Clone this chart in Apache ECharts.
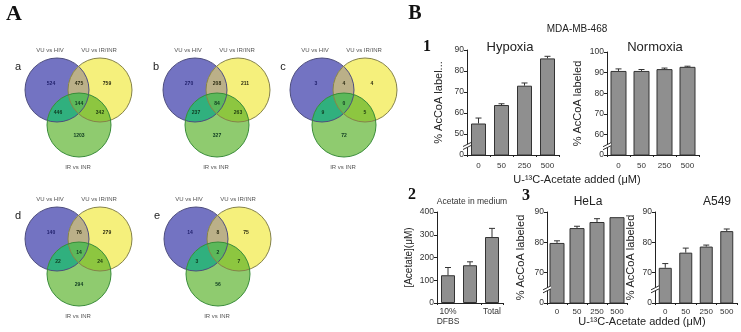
<!DOCTYPE html>
<html><head><meta charset="utf-8">
<script src="https://cdn.jsdelivr.net/npm/echarts@6/dist/echarts.min.js"></script>
<style>html,body{margin:0;padding:0;background:#fff}#c{width:741px;height:332px}</style>
</head><body><div id="c"></div>
<script>
// ---------- data ----------
const doseCats = ['0', '50', '250', '500'];
const hypoxiaVals = [55, 63.8, 73, 86];
const hypoxiaErr = [2.6, 0.6, 1.3, 1.0];
const normoxiaVals = [90.8, 90.8, 91.7, 92.8];
const normoxiaErr = [1.0, 0.7, 0.5, 0.3];
const mediumCats = ['10%\nDFBS', 'DMEM', 'Total'];
const mediumVals = [122, 166, 290];
const mediumErr = [34, 15, 38];
const helaVals = [79.8, 84.7, 86.7, 88.3];
const helaErr = [0.7, 0.6, 1.1, 0];
const a549Vals = [71.6, 76.6, 78.6, 83.7];
const a549Err = [1.4, 1.5, 0.5, 0.7];
const vennSetNames = ['VU vs HIV', 'VU vs IR/INR', 'IR vs INR'];
const vennPanels = ['a', 'b', 'c', 'd', 'e'];
// region order: HIV only, HIV&IR/INR, IR/INR only, HIV&IRvsINR, all three, IR/INR&IRvsINR, IRvsINR only
const vennA = [524, 475, 759, 446, 144, 342, 1203];
const vennB = [270, 208, 211, 237, 84, 263, 327];
const vennC = [3, 4, 4, 9, 0, 5, 72];
const vennD = [140, 76, 279, 22, 14, 24, 294];
const vennE = [14, 8, 75, 3, 2, 7, 56];
const vennData = [vennA, vennB, vennC, vennD, vennE];

// ---------- layout / style ----------
const FONT = '"Liberation Sans", Arial, sans-serif';
const SERIF = '"Liberation Serif", "Times New Roman", serif';
const vennOffsets = [[0, 0], [138, 0], [265, 0], [0, 149], [139, 149]];
const R = 32;
const centers = [[57, 90], [100, 90], [79, 125]];
const fills = { p: '#7373c2', y: '#f5f07c', g: '#8fcb6f', py: '#bbb088', pg: '#30b07e', yg: '#8dc640', pyg: '#5cb85a' };
const strokes = ['#4e4e7e', '#85824a', '#3a8c3a'];
const labelPos = [[51, 84], [79, 84], [107, 84], [58, 113], [79, 104], [100, 113], [79, 136]];
const numColor = ['#1e1e6a', '#2a2a10', '#2a2a10', '#0e3a20', '#0e3a20', '#1e3a10', '#0e3a20'];

function regionPoly(circles, n) {
  let cx = 0, cy = 0;
  circles.forEach(c => { cx += c[0]; cy += c[1]; });
  cx /= circles.length; cy /= circles.length;
  const pts = [];
  for (let k = 0; k < n; k++) {
    const a = 2 * Math.PI * k / n, ux = Math.cos(a), uy = Math.sin(a);
    let tmin = Infinity;
    circles.forEach(c => {
      const wx = cx - c[0], wy = cy - c[1];
      const b = wx * ux + wy * uy;
      const cc = wx * wx + wy * wy - c[2] * c[2];
      const t = -b + Math.sqrt(b * b - cc);
      if (t < tmin) tmin = t;
    });
    pts.push([cx + ux * tmin, cy + uy * tmin]);
  }
  return pts;
}

function vennRender(params, api) {
  const idx = api.value(0);
  const counts = vennData[idx];
  const ox = vennOffsets[idx][0], oy = vennOffsets[idx][1];
  const C = centers.map(c => [c[0] + ox, c[1] + oy, R]);
  const ch = [];
  ch.push({ type: 'circle', shape: { cx: C[0][0], cy: C[0][1], r: R }, style: { fill: fills.p } });
  ch.push({ type: 'circle', shape: { cx: C[1][0], cy: C[1][1], r: R }, style: { fill: fills.y } });
  ch.push({ type: 'circle', shape: { cx: C[2][0], cy: C[2][1], r: R }, style: { fill: fills.g } });
  ch.push({ type: 'polygon', shape: { points: regionPoly([C[0], C[1]], 160) }, style: { fill: fills.py } });
  ch.push({ type: 'polygon', shape: { points: regionPoly([C[0], C[2]], 160) }, style: { fill: fills.pg } });
  ch.push({ type: 'polygon', shape: { points: regionPoly([C[1], C[2]], 160) }, style: { fill: fills.yg } });
  ch.push({ type: 'polygon', shape: { points: regionPoly([C[0], C[1], C[2]], 160) }, style: { fill: fills.pyg } });
  C.forEach((c, i) => ch.push({ type: 'circle', shape: { cx: c[0], cy: c[1], r: R },
    style: { fill: 'none', stroke: strokes[i], lineWidth: 1 } }));
  counts.forEach((v, i) => ch.push({ type: 'text', x: labelPos[i][0] + ox, y: labelPos[i][1] + oy,
    style: { text: String(v), fill: numColor[i], font: 'bold 5px ' + FONT, align: 'center', verticalAlign: 'middle' } }));
  const tp = [[50, 50], [99, 50], [78, 167]];
  vennSetNames.forEach((n, i) => ch.push({ type: 'text', x: tp[i][0] + ox, y: tp[i][1] + oy,
    style: { text: n, fill: '#555', font: '6px ' + FONT, align: 'center', verticalAlign: 'middle' } }));
  ch.push({ type: 'text', x: 18 + ox, y: 67 + oy,
    style: { text: vennPanels[idx], fill: '#222', font: '11px ' + FONT, align: 'center', verticalAlign: 'middle' } });
  return { type: 'group', children: ch };
}

function errRender(params, api) {
  const x = api.value(0), v = api.value(1), e = api.value(2);
  if (!e) return { type: 'group', children: [] };
  const p0 = api.coord([x, v]), p1 = api.coord([x, v + e]);
  return { type: 'group', children: [
    { type: 'line', shape: { x1: p0[0], y1: p0[1], x2: p1[0], y2: p1[1] }, style: { stroke: '#333', lineWidth: 1 } },
    { type: 'line', shape: { x1: p1[0] - 3, y1: p1[1], x2: p1[0] + 3, y2: p1[1] }, style: { stroke: '#333', lineWidth: 1 } }
  ] };
}

function breakRender(params, api) {
  const y = api.coord([0, api.value(1)])[1];
  const x = params.coordSys.x;
  return { type: 'group', children: [
    { type: 'polygon', shape: { points: [[x - 4, y + 2], [x + 4, y - 2], [x + 4, y + 1], [x - 4, y + 5]] }, style: { fill: '#fff' } },
    { type: 'line', shape: { x1: x - 4, y1: y + 2, x2: x + 4, y2: y - 2 }, style: { stroke: '#333', lineWidth: 1 } },
    { type: 'line', shape: { x1: x - 4, y1: y + 5, x2: x + 4, y2: y + 1 }, style: { stroke: '#333', lineWidth: 1 } }
  ] };
}

const grids = [
  { left: 467, top: 50, width: 92, height: 105 },
  { left: 607, top: 52, width: 92, height: 103 },
  { left: 437, top: 212, width: 66, height: 91 },
  { left: 547, top: 212, width: 80, height: 91 },
  { left: 655, top: 212, width: 82, height: 91 }
];
const axisCommon = {
  axisLine: { show: true, lineStyle: { color: '#222', width: 1 } },
  axisTick: { show: true, length: 3, lineStyle: { color: '#222' } },
  splitLine: { show: false }
};
function yAx(i, min, max, interval, name, gap, zeroLabel) {
  return Object.assign({}, axisCommon, {
    type: 'value', gridIndex: i, min, max, interval,
    name, nameLocation: 'middle', nameGap: gap,
    nameTextStyle: { fontSize: i === 2 ? 10 : 11, color: '#222', fontFamily: FONT },
    axisLabel: { fontSize: 8.5, color: '#333', margin: 3, fontFamily: FONT,
      formatter: v => (zeroLabel && v === min) ? '0' : String(v) }
  });
}
function xAx(i, cats, fs, margin) {
  return Object.assign({}, axisCommon, {
    type: 'category', gridIndex: i, data: cats,
    axisTick: { show: true, length: 2, lineStyle: { color: '#222' } },
    axisLabel: { fontSize: fs, color: '#333', margin, fontFamily: FONT, lineHeight: 10 }
  });
}
const barStyle = { color: '#8f8f8f', borderColor: '#333', borderWidth: 1 };
function barSeries(i, vals, w) {
  return { type: 'bar', xAxisIndex: i, yAxisIndex: i, data: vals, barWidth: w, itemStyle: barStyle, z: 2, silent: true };
}
function errSeries(i, vals, errs) {
  return { type: 'custom', xAxisIndex: i, yAxisIndex: i, renderItem: errRender, z: 3, silent: true,
    data: vals.map((v, k) => [k, v, errs[k]]), encode: { x: 0, y: 1 } };
}
function breakSeries(i, v) {
  return { type: 'custom', xAxisIndex: i, yAxisIndex: i, renderItem: breakRender, z: 4, silent: true, clip: false,
    data: [[0, v]], encode: { x: 0, y: 1 } };
}

const chart = echarts.init(document.getElementById('c'), null, { renderer: 'canvas' });
const txt = (x, y, text, font, fill) => ({ type: 'text', x, y,
  style: { text, font, fill: fill || '#222', align: 'center', verticalAlign: 'middle' } });
chart.setOption({
  animation: false,
  backgroundColor: '#fff',
  grid: grids,
  xAxis: [xAx(0, doseCats, 8, 6), xAx(1, doseCats, 8, 6), xAx(2, mediumCats, 8.5, 4), xAx(3, doseCats, 8, 4), xAx(4, doseCats, 8, 4)],
  yAxis: [
    yAx(0, 40, 90, 10, '% AcCoA label...', 23, true),
    yAx(1, 50, 100, 10, '% AcCoA labeled', 24, true),
    yAx(2, 0, 400, 100, '[Acetate](μM)', 23, false),
    yAx(3, 60, 90, 10, '% AcCoA labeled', 21, true),
    yAx(4, 60, 90, 10, '% AcCoA labeled', 19, true)
  ],
  series: [
    { type: 'custom', coordinateSystem: 'none', renderItem: vennRender, silent: true, z: 1,
      data: vennPanels.map((p, i) => [i]) },
    barSeries(0, hypoxiaVals, 15), errSeries(0, hypoxiaVals, hypoxiaErr), breakSeries(0, 45),
    barSeries(1, normoxiaVals, 16), errSeries(1, normoxiaVals, normoxiaErr), breakSeries(1, 55),
    barSeries(2, mediumVals, 14), errSeries(2, mediumVals, mediumErr),
    barSeries(3, helaVals, 15), errSeries(3, helaVals, helaErr), breakSeries(3, 65),
    barSeries(4, a549Vals, 13), errSeries(4, a549Vals, a549Err), breakSeries(4, 65)
  ],
  graphic: { elements: [
    txt(14, 14, 'A', 'bold 22px ' + SERIF, '#111'),
    txt(415, 14, 'B', 'bold 20px ' + SERIF, '#111'),
    txt(427, 47, '1', 'bold 16px ' + SERIF, '#111'),
    txt(412, 195, '2', 'bold 16px ' + SERIF, '#111'),
    txt(526, 196, '3', 'bold 16px ' + SERIF, '#111'),
    txt(577, 29, 'MDA-MB-468', '10px ' + FONT),
    txt(510, 47, 'Hypoxia', '13px ' + FONT),
    txt(655, 47, 'Normoxia', '13px ' + FONT),
    txt(472, 202, 'Acetate in medium', '8.5px ' + FONT, '#333'),
    txt(588, 202, 'HeLa', '12px ' + FONT),
    txt(717, 202, 'A549', '12px ' + FONT),
    txt(577, 180, 'U-¹³C-Acetate added (μM)', '11px ' + FONT),
    txt(642, 322, 'U-¹³C-Acetate added (μM)', '11px ' + FONT)
  ] }
});
</script></body></html>
